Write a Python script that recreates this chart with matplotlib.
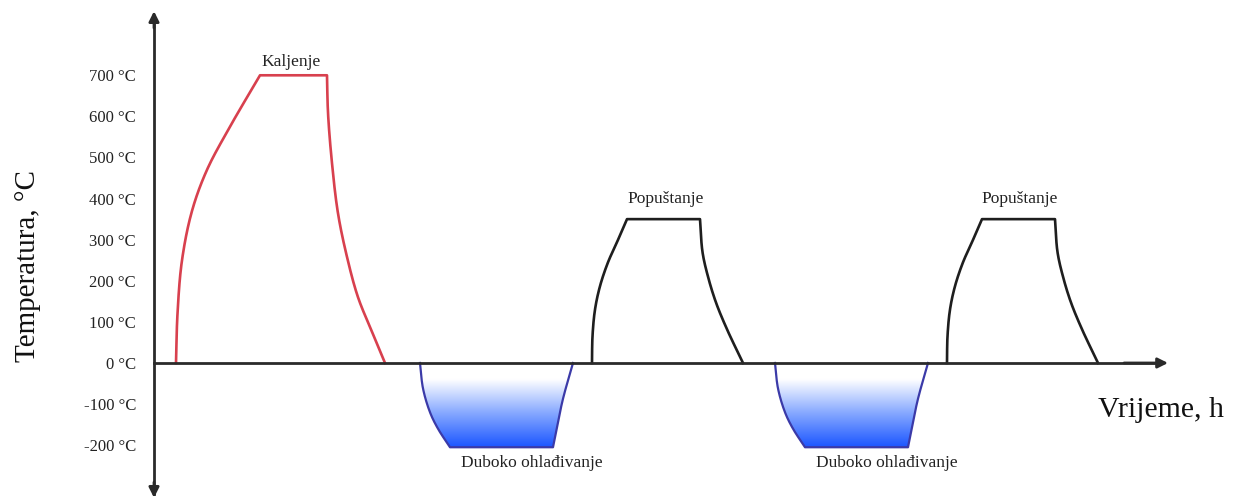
import matplotlib
matplotlib.use("Agg")
import matplotlib.pyplot as plt
import numpy as np
from matplotlib.colors import LinearSegmentedColormap
from matplotlib.patches import Polygon

plt.rcParams['font.family'] = ['Liberation Serif', 'DejaVu Serif']

# ---- data (time in h, temperature in °C) ----
kaljenje_t = [2.2, 2.35, 2.8, 3.8, 5.3, 7.6, 10.6,
              17.3, 17.4, 17.8, 18.4, 19.3, 20.4, 21.8, 23.1]
kaljenje_T = [0, 120, 250, 370, 470, 575, 700,
              700, 609, 486, 364, 258, 160, 76, 0]

hladenje1_t = [26.6, 26.9, 27.6, 28.4, 29.6, 39.9, 40.4, 40.9, 41.9]
hladenje1_T = [0, -62, -120, -160, -205, -205, -144, -87, 0]

popustanje1_t = [43.8, 43.85, 44.1, 44.6, 45.4, 46.3, 47.3,
                 54.6, 54.85, 55.4, 56.2, 57.3, 58.9]
popustanje1_T = [0, 65, 130, 187, 245, 294, 350,
                 350, 270, 210, 147, 82, 0]

hladenje2_t = [62.1, 62.4, 63.1, 63.9, 65.1, 75.4, 75.9, 76.4, 77.4]
hladenje2_T = [0, -62, -120, -160, -205, -205, -144, -87, 0]

popustanje2_t = [79.3, 79.35, 79.6, 80.1, 80.9, 81.8, 82.8,
                 90.1, 90.35, 90.9, 91.7, 92.8, 94.4]
popustanje2_T = [0, 65, 130, 187, 245, 294, 350,
                 350, 270, 210, 147, 82, 0]

ytick_values = [-200, -100, 0, 100, 200, 300, 400, 500, 600, 700]
ytick_labels = [f"{v} °C" for v in ytick_values]

labels = ["Kaljenje", "Popuštanje", "Popuštanje",
          "Duboko ohlađivanje", "Duboko ohlađivanje"]
label_t = [13.7, 51.2, 86.6, 37.8, 73.3]
label_T = [732, 399, 399, -243, -243]

# corner indices (where the curve has sharp kinks)
kaljenje_corners = [6, 7]
hladenje_corners = [4, 5]
popustanje_corners = [6, 7]

SX, SY = 10.0, 0.411  # display scale for smoothing (px per unit)


def catmull(pts, n=24):
    """Centripetal Catmull-Rom through pts (in display-like scale)."""
    pts = np.asarray(pts, float)
    if len(pts) < 3:
        return pts
    P = np.vstack([2 * pts[0] - pts[1], pts, 2 * pts[-1] - pts[-2]])
    out = [pts[0]]
    for i in range(1, len(P) - 2):
        p0, p1, p2, p3 = P[i - 1], P[i], P[i + 1], P[i + 2]
        def tj(ti, a, b):
            return ti + max(np.hypot(*(b - a)), 1e-6) ** 0.5
        t0 = 0.0
        t1 = tj(t0, p0, p1)
        t2 = tj(t1, p1, p2)
        t3 = tj(t2, p2, p3)
        ts = np.linspace(t1, t2, n)[1:, None]
        A1 = (t1 - ts) / (t1 - t0) * p0 + (ts - t0) / (t1 - t0) * p1
        A2 = (t2 - ts) / (t2 - t1) * p1 + (ts - t1) / (t2 - t1) * p2
        A3 = (t3 - ts) / (t3 - t2) * p2 + (ts - t2) / (t3 - t2) * p3
        B1 = (t2 - ts) / (t2 - t0) * A1 + (ts - t0) / (t2 - t0) * A2
        B2 = (t3 - ts) / (t3 - t1) * A2 + (ts - t1) / (t3 - t1) * A3
        C = (t2 - ts) / (t2 - t1) * B1 + (ts - t1) / (t2 - t1) * B2
        out.extend(C)
    return np.array(out)


def smooth_path(t, T, corners):
    pts = np.column_stack([np.asarray(t) * SX, np.asarray(T) * SY])
    idx = [0] + corners + [len(pts) - 1]
    pieces = []
    for a, b in zip(idx[:-1], idx[1:]):
        seg = pts[a:b + 1]
        pieces.append(catmull(seg) if b - a >= 2 else seg)
    res = np.vstack(pieces)
    return res[:, 0] / SX, res[:, 1] / SY


# ---- figure ----
fig = plt.figure(figsize=(12.43, 5.01), dpi=100)
ax = fig.add_axes([0, 0, 1, 1])
ax.set_xlim(-15.4, 108.9)
ax.set_ylim(-335.8, 883.2)
ax.patch.set_alpha(0)

axis_color = '#2a2a2a'
for s in ['top', 'right']:
    ax.spines[s].set_visible(False)
ax.spines['left'].set_position(('data', 0))
ax.spines['bottom'].set_position(('data', 0))
ax.spines['left'].set_bounds(-318, 845)
ax.spines['bottom'].set_bounds(0, 100)
for s in ['left', 'bottom']:
    ax.spines[s].set_color(axis_color)
    ax.spines[s].set_linewidth(2.0)
    ax.spines[s].set_zorder(5)

ax.set_xticks([])
ax.set_yticks(ytick_values)
ax.set_yticklabels(ytick_labels, fontsize=12)
ax.tick_params(axis='y', length=0, pad=13, labelcolor='#222222')

# arrowheads
arrow_kw = dict(arrowstyle='-|>', color=axis_color, lw=2.0, mutation_scale=15,
                shrinkA=0, shrinkB=0)
ax.annotate('', xy=(0, 856), xytext=(0, 815), arrowprops=arrow_kw, zorder=6)
ax.annotate('', xy=(0, -328), xytext=(0, -290), arrowprops=arrow_kw, zorder=6)
ax.annotate('', xy=(101.4, 0), xytext=(97, 0), arrowprops=arrow_kw, zorder=6)

# gradient fills for deep cooling
cmap = LinearSegmentedColormap.from_list(
    'cool', [(0, '#ffffff'), (0.2, '#ffffff'), (0.6, '#86a8ff'), (1, '#1c56ff')])
grad = np.linspace(0, 1, 256).reshape(-1, 1)
for tt, TT in [(hladenje1_t, hladenje1_T), (hladenje2_t, hladenje2_T)]:
    st, sT = smooth_path(tt, TT, hladenje_corners)
    poly = Polygon(np.column_stack([st, sT]), closed=True, facecolor='none',
                   edgecolor='none')
    ax.add_patch(poly)
    im = ax.imshow(grad, cmap=cmap, aspect='auto',
                   extent=(min(tt), max(tt), min(TT), 0), origin='upper',
                   zorder=1)
    im.set_clip_path(poly)
    ax.plot(st, sT, color='#3b3aa8', lw=1.6, zorder=3, solid_joinstyle='round')

for tt, TT, cr, col in [(kaljenje_t, kaljenje_T, kaljenje_corners, '#d8404e'),
                        (popustanje1_t, popustanje1_T, popustanje_corners, '#1e1e1e'),
                        (popustanje2_t, popustanje2_T, popustanje_corners, '#1e1e1e')]:
    st, sT = smooth_path(tt, TT, cr)
    ax.plot(st, sT, color=col, lw=1.9, zorder=3, solid_joinstyle='round')

for lab, lt, lT in zip(labels, label_t, label_T):
    ax.text(lt, lT, lab, ha='center', va='center', fontsize=12.5,
            color='#222222')

ax.text(0.0225, 0.469, "Temperatura, °C", rotation=90, ha='center',
        va='center', fontsize=21, transform=ax.transAxes, color='#111111')
ax.text(0.934, 0.182, "Vrijeme, h", ha='center', va='center', fontsize=21.5,
        transform=ax.transAxes, color='#111111')

fig.savefig('out.png', dpi=100)
